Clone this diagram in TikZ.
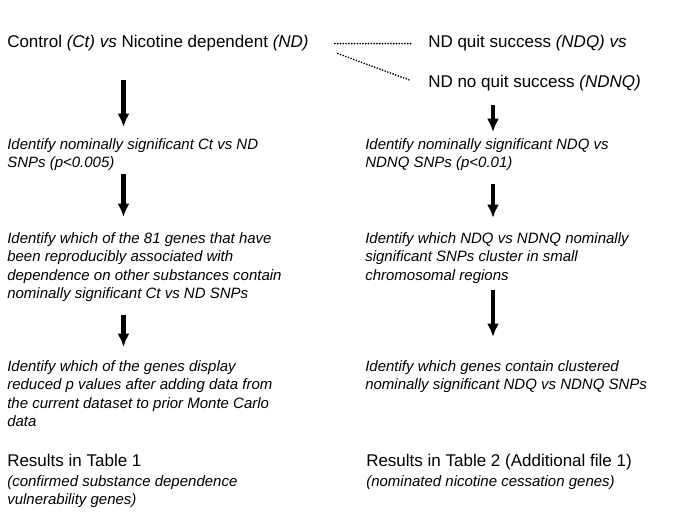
\documentclass[tikz,border=0pt]{standalone}
\usepackage{fontspec}
\setmainfont{Liberation Sans}
\usetikzlibrary{arrows.meta}

\tikzset{
  head/.style={anchor=base west, inner sep=0, font=\fontsize{12.75}{15}\selectfont},
  stepbox/.style={anchor=north west, inner sep=0, align=left, font=\fontsize{11.25}{13.9}\selectfont\itshape},
  flow/.style={-{Latex[length=10pt,width=9pt]}, line width=3.4pt},
  dotline/.style={line width=1.4pt, line cap=round, dash pattern=on 0pt off 2.1pt}
}

\begin{document}
\begin{tikzpicture}[x=0.75pt, y=0.75pt]
  \useasboundingbox (0,0) rectangle (685,-513);

  \node[head] (ctnd) at (7,-48) {Control \textit{(Ct) vs} Nicotine dependent \textit{(ND)}};
  \node[head] (ndq) at (428,-48) {ND quit success \textit{(NDQ) vs}};
  \node[head] (ndnq) at (428,-88) {ND no quit success \textit{(NDNQ)}};

  \draw[dotline, shorten <=19.5pt, shorten >=12pt] (ctnd.east) -- (ndq.west);
  \draw[dotline] ([shift={(29,-10)}]ctnd.east) -- ([shift={(-17,3)}]ndnq.west);

  \coordinate (lcol) at (123.5,0);
  \coordinate (rcol) at (493,0);

  \node[stepbox] (ct1) at (7,-138) {Identify nominally significant Ct vs ND\\SNPs (p<0.005)};
  \node[stepbox] (ct2) at (7,-232) {Identify which of the 81 genes that have\\been reproducibly associated with\\dependence on other substances contain\\nominally significant Ct vs ND SNPs};
  \node[stepbox] (ct3) at (7,-360) {Identify which of the genes display\\reduced p values after adding data from\\the current dataset to prior Monte Carlo\\data};
  \node[head] (res1) at (7,-466) {Results in Table 1};
  \node[stepbox] (res1note) at (7,-475) {(confirmed substance dependence\\vulnerability genes)};

  \node[stepbox] (nq1) at (365,-138) {Identify nominally significant NDQ vs\\NDNQ SNPs (p<0.01)};
  \node[stepbox] (nq2) at (365,-232) {Identify which NDQ vs NDNQ nominally\\significant SNPs cluster in small\\chromosomal regions};
  \node[stepbox] (nq3) at (365,-360) {Identify which genes contain clustered\\nominally significant NDQ vs NDNQ SNPs};
  \node[head] (res2) at (366,-466) {Results in Table 2 (Additional file 1)};
  \node[stepbox] (res2note) at (366,-475) {(nominated nicotine cessation genes)};

  \draw[flow, shorten <=21.3pt, shorten >=8.25pt] (ctnd.south -| lcol) -- (ct1.north -| lcol);
  \draw[flow, shorten <=2.1pt, shorten >=11.25pt] (ct1.south -| lcol) -- (ct2.north -| lcol);
  \draw[flow, shorten <=9.6pt, shorten >=9.75pt] (ct2.south -| lcol) -- (ct3.north -| lcol);

  \draw[flow, shorten <=10pt, shorten >=4.5pt] (ndnq.south -| rcol) -- (nq1.north -| rcol);
  \draw[flow, shorten <=9.6pt, shorten >=10.5pt] (nq1.south -| rcol) -- (nq2.north -| rcol);
  \draw[flow, shorten <=5.1pt, shorten >=17.25pt] (nq2.south -| rcol) -- (nq3.north -| rcol);
\end{tikzpicture}
\end{document}
